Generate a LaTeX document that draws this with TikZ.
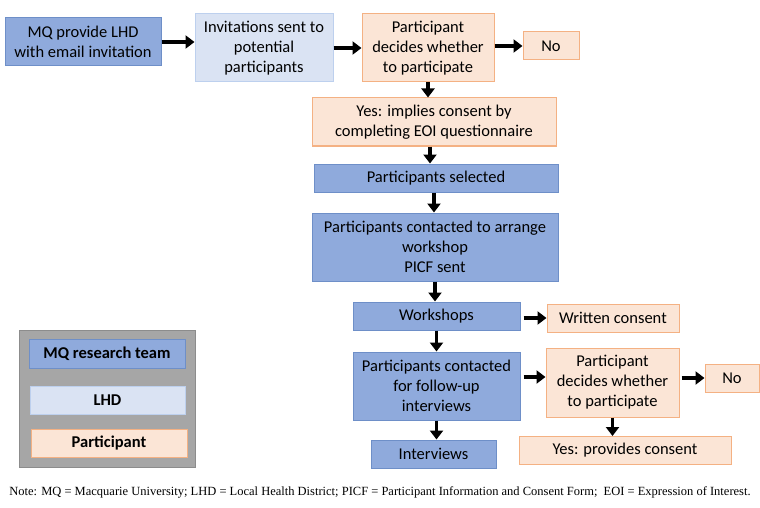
\documentclass[tikz,border=0pt]{standalone}
\usepackage{fontspec}
\setmainfont{Carlito}
\newfontfamily\notefont{Liberation Serif}
\usetikzlibrary{arrows.meta}
\definecolor{dkfill}{HTML}{8FAADC}
\definecolor{dkline}{HTML}{6E8FC8}
\definecolor{ltfill}{HTML}{DAE3F3}
\definecolor{ltline}{HTML}{BDD0EE}
\definecolor{pkfill}{HTML}{FBE5D6}
\definecolor{pkline}{HTML}{F4B183}
\definecolor{gyfill}{HTML}{A6A6A6}
\definecolor{gyline}{HTML}{8C8C8C}
\tikzset{
  box/.style={draw, line width=1pt, align=center, inner sep=1pt, font=\fontsize{16.5}{20}\selectfont},
  dkbox/.style={box, fill=dkfill, draw=dkline},
  ltbox/.style={box, fill=ltfill, draw=ltline},
  pkbox/.style={box, fill=pkfill, draw=pkline},
  legbox/.style={box, font=\fontsize{16.5}{20}\selectfont\bfseries},
  arr/.style={line width=3.5pt, -{Triangle[length=9pt,width=13pt]}},
}
\begin{document}
\begin{tikzpicture}[x=1pt,y=-1pt]
\useasboundingbox (0,0) rectangle (760,508);
% main flow
\node[dkbox, minimum width=156pt, minimum height=48pt] (n1) at (83,42) {MQ provide LHD\\with email invitation};
\node[ltbox, minimum width=138pt, minimum height=68pt] (n2) at (264,48) {Invitations sent to\\potential\\participants};
\node[pkbox, minimum width=132pt, minimum height=68pt] (n3) at (428,48) {Participant\\decides whether\\to participate};
\node[pkbox, minimum width=56pt, minimum height=28pt] (n4) at (551,46) {No};
\node[pkbox, minimum width=244pt, minimum height=48pt] (n5) at (434,122) {Yes: implies consent by\\completing EOI questionnaire};
\node[dkbox, minimum width=244pt, minimum height=28pt] (n6) at (436,178) {Participants selected};
\node[dkbox, minimum width=246pt, minimum height=68pt] (n7) at (435,247) {Participants contacted to arrange\\workshop\\PICF sent};
\node[dkbox, minimum width=167pt, minimum height=28pt] (n8) at (436.5,316) {Workshops};
\node[pkbox, minimum width=132pt, minimum height=28pt] (n9) at (613,318) {Written consent};
\node[dkbox, minimum width=167pt, minimum height=68pt] (n10) at (436.5,386) {Participants contacted\\for follow-up\\interviews};
\node[dkbox, minimum width=125pt, minimum height=28pt] (n11) at (433.5,454) {Interviews};
\node[pkbox, minimum width=133pt, minimum height=69pt] (n12) at (612.5,382.5) {Participant\\decides whether\\to participate};
\node[pkbox, minimum width=54pt, minimum height=28pt] (n13) at (732,378) {No};
\node[pkbox, minimum width=212pt, minimum height=28pt] (n14) at (625,450.5) {Yes: provides consent};
% legend
\node[draw=gyline, fill=gyfill, line width=1pt, minimum width=176pt, minimum height=137pt] (leg) at (107,398.5) {};
\node[legbox, fill=dkfill, draw=dkline, minimum width=156pt, minimum height=29pt] (l1) at (107,353.5) {MQ research team};
\node[legbox, fill=ltfill, draw=ltline, minimum width=155pt, minimum height=28pt] (l2) at (107.5,400) {LHD};
\node[legbox, fill=pkfill, draw=pkline, minimum width=156pt, minimum height=28pt] (l3) at (109,443) {Participant};
% note
\node[inner sep=0pt, font=\notefont\fontsize{12.5}{14}\selectfont] (note) at (380,492) {Note: MQ = Macquarie University; LHD = Local Health District; PICF = Participant Information and Consent Form;\ \ EOI = Expression of Interest.};
% arrows
\coordinate (c1) at ([xshift=3pt,yshift=-2pt]n8.east);
\coordinate (c2) at ([xshift=3pt,yshift=9pt]n10.east);
\draw[arr] (n1.east) -- (n2.west |- n1.east);
\draw[arr] (n2.east) -- (n3.west |- n2.east);
\draw[arr] (n3.east |- n4.west) -- (n4.west);
\draw[arr] (n3.south) -- (n3.south |- n5.north);
\draw[arr] ([xshift=-4pt]n5.south) -- ([xshift=-4pt]n5.south |- n6.north);
\draw[arr] ([xshift=-2pt]n6.south) -- ([xshift=-2pt]n6.south |- n7.north);
\draw[arr] (n7.south) -- (n7.south |- n8.north);
\draw[arr] (c1) -- (c1 -| n9.west);
\draw[arr] (n8.south) -- (n8.south |- n10.north);
\draw[arr] (c2) -- (c2 -| n12.west);
\draw[arr] ([xshift=2pt]n12.east |- n13.west) -- (n13.west);
\draw[arr] (n12.south) -- (n12.south |- n14.north);
\draw[arr] (n10.south) -- (n10.south |- n11.north);
\end{tikzpicture}
\end{document}
